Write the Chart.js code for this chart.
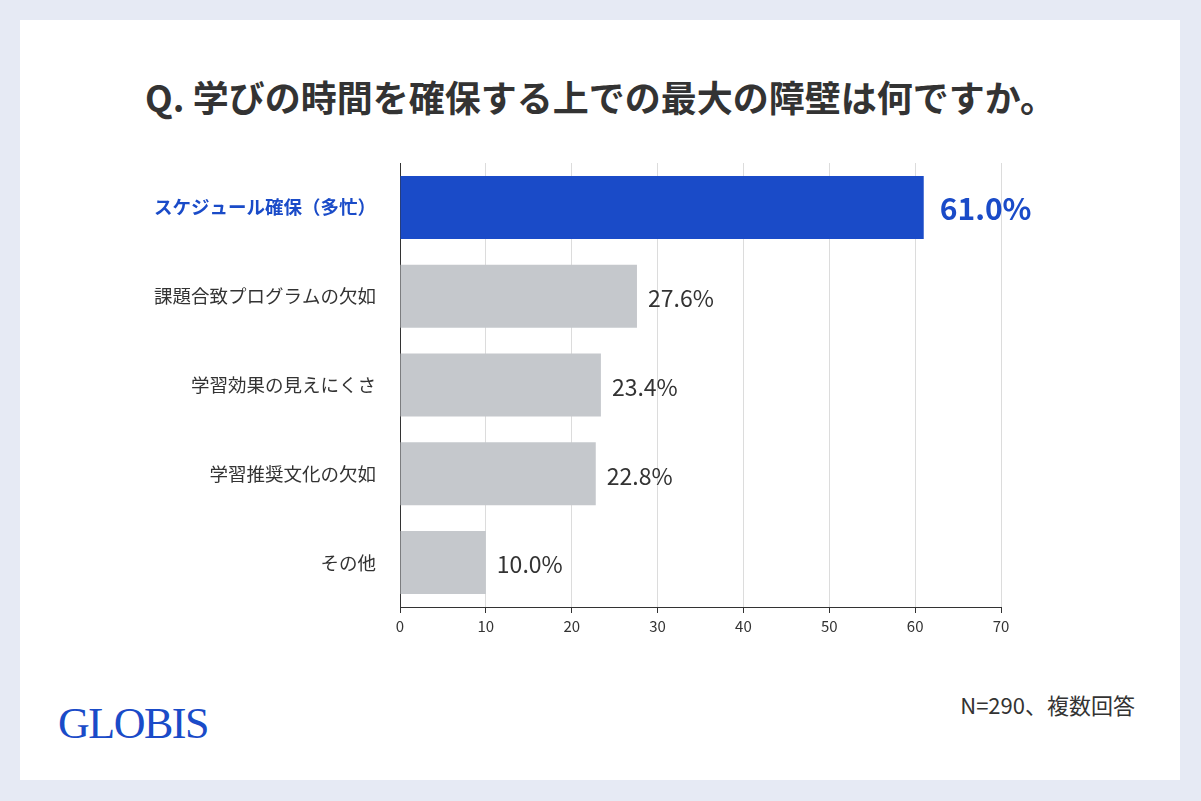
<!DOCTYPE html>
<html><head><meta charset="utf-8">
<script src="https://cdn.jsdelivr.net/npm/chart.js@4"></script>
<style>
body{margin:0;background:#e6eaf4;width:1201px;height:801px;overflow:hidden;font-family:"Noto Sans CJK JP","Noto Sans",sans-serif}
#card{position:absolute;left:20px;top:20px;width:1160px;height:760px;background:#fff}
#title{position:absolute;left:0;top:70px;width:1201px;text-align:center;font-size:36px;font-weight:bold;color:#333}
#logo{position:absolute;left:58px;top:698px;font-family:"Liberation Serif",serif;font-size:44px;color:#1a4bc8;letter-spacing:-1.5px}
#note{position:absolute;right:66px;top:688px;font-size:22px;color:#333}
canvas{position:absolute;left:0;top:0}
</style></head><body>
<div id="card"></div>
<div id="title">Q. 学びの時間を確保する上での最大の障壁は何ですか。</div>
<div id="logo">GLOBIS</div>
<div id="note">N=290、複数回答</div>
<canvas id="c" width="1201" height="801"></canvas>
<script>
var categories = ['スケジュール確保（多忙）', '課題合致プログラムの欠如', '学習効果の見えにくさ', '学習推奨文化の欠如', 'その他'];
var values = [61.0, 27.6, 23.4, 22.8, 10.0];
var barColors = ['#1a4bc8', '#c5c8cc', '#c5c8cc', '#c5c8cc', '#c5c8cc'];
var xTicks = [0, 10, 20, 30, 40, 50, 60, 70];

var valueLabels = {
    id: 'valueLabels',
    afterDatasetsDraw: function(chart) {
        var ctx = chart.ctx;
        var meta = chart.getDatasetMeta(0);
        ctx.save();
        ctx.textBaseline = 'middle';
        ctx.textAlign = 'left';
        for (var i = 0; i < meta.data.length; i++) {
            var bar = meta.data[i];
            if (i === 0) {
                ctx.font = 'bold 30px "Noto Sans CJK JP"';
                ctx.fillStyle = '#1a4bc8';
                ctx.fillText(values[i].toFixed(1) + '%', bar.x + 16, bar.y + 1);
            } else {
                ctx.font = '23px "Noto Sans CJK JP"';
                ctx.fillStyle = '#333';
                ctx.fillText(values[i].toFixed(1) + '%', bar.x + 11, bar.y + 2);
            }
        }
        ctx.restore();
    }
};

new Chart(document.getElementById('c'), {
    type: 'bar',
    data: {
        labels: categories,
        datasets: [{data: values, backgroundColor: barColors, barPercentage: 1, categoryPercentage: 0.71}]
    },
    options: {
        indexAxis: 'y',
        responsive: false,
        animation: false,
        layout: {padding: {top: 163, right: 200, bottom: 162, left: 0}},
        plugins: {legend: {display: false}, tooltip: {enabled: false}},
        scales: {
            x: {
                min: 0, max: 70,
                afterBuildTicks: function(s) { s.ticks = xTicks.map(function(v) { return {value: v}; }); },
                grid: {color: '#dcdcdc', tickLength: 6, tickColor: '#333'},
                border: {color: '#333'},
                ticks: {color: '#333', font: {size: 15, family: 'Noto Sans CJK JP'}, padding: 4}
            },
            y: {
                afterFit: function(s) { s.width = 400; },
                grid: {display: false, drawTicks: false},
                border: {color: '#333'},
                ticks: {
                    padding: 24,
                    color: function(c) { return c.index === 0 ? '#1a4bc8' : '#333'; },
                    font: function(c) { return {size: 18.5, weight: c.index === 0 ? 'bold' : 'normal', family: 'Noto Sans CJK JP'}; }
                }
            }
        }
    },
    plugins: [valueLabels]
});
</script>
</body></html>
